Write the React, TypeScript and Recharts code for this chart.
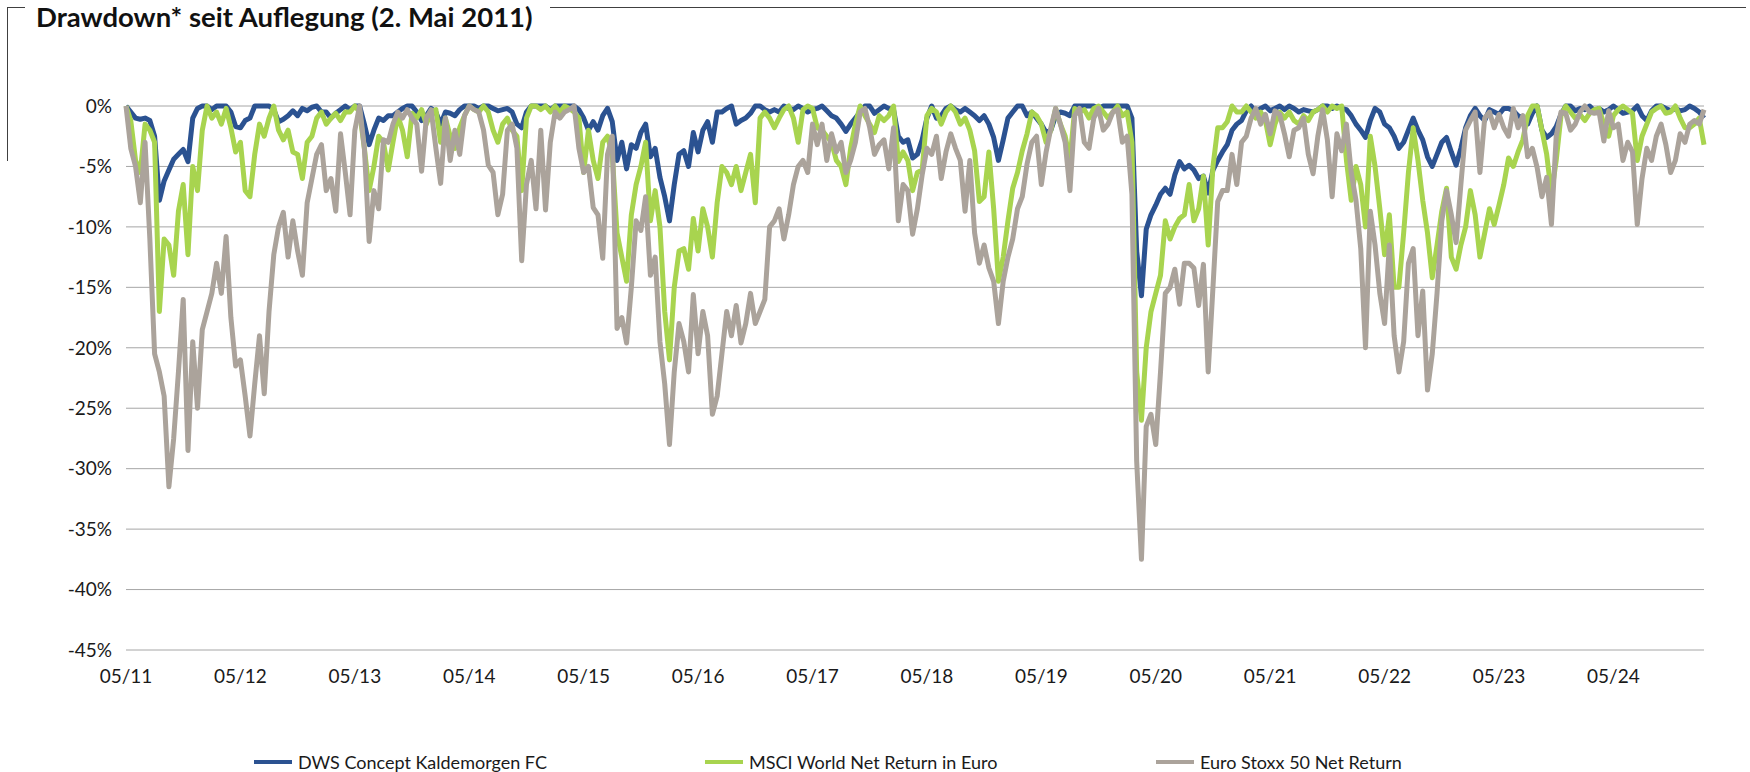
import React from "react";
import { LineChart, Line, XAxis, YAxis, CartesianGrid } from "recharts";

// drawdown in %, one value per half month from 05/2011
const fundValues = [
  // 05/11 - 08/13
  0, -0.5, -1.0, -1.1, -1.0, -1.2, -2.5, -7.8, -6.2, -5.3, -4.4, -4.0,
  -3.6, -4.6, -1.0, -0.2, 0, 0, -0.3, 0, 0, 0, -0.5, -1.7,
  -1.8, -1.2, -1.0, 0, 0, 0, 0, -0.3, -1.3, -1.1, -0.8, -0.4,
  -0.8, -0.2, -0.4, -0.1, 0, -0.5, -0.5, -1.0, -0.6, -0.3, 0, -0.3,
  0, 0, -1.5, -3.2, -2.0, -1.0, -1.2, -0.8,
  // 09/13 - 12/15
  -0.8, -0.5, -0.2, 0, 0, -0.5, -1.2, -0.8, -0.2, -0.5, -1.5, -0.5,
  -0.6, -0.8, -0.3, 0, 0, 0, -0.2, 0, 0, -0.2, -0.4, -0.3,
  -0.2, -0.5, -1.5, -1.8, -0.5, 0, 0, 0, 0, -0.3, 0, 0,
  0, 0, 0, -0.3, -1.0, -2.0, -1.3, -2.0, -0.8, -0.2, -1.3, -4.5,
  -3.0, -5.2, -3.2, -3.5, -2.2, -1.5, -4.2,
  // 12/15 - 06/18
  -3.5, -5.9, -7.5, -9.5, -6.5, -4.0, -3.7, -5.0, -2.2, -3.8, -2.0, -1.3,
  -3.0, -0.5, -0.5, -0.2, 0, -1.5, -1.2, -1.0, -0.6, 0, 0, -0.3,
  -0.5, -0.3, -0.5, 0, -0.2, -0.3, 0, -0.2, -0.5, -0.3, -0.2, 0,
  -0.4, -0.8, -1.0, -1.5, -2.1, -1.5, -1.0, -0.5, 0, 0, -0.6, -0.3,
  0, -0.2, -0.3, -2.5, -3.0, -2.8, -4.3,
  // 07/18 - 01/21
  -4.0, -2.8, -1.0, 0, -1.0, -0.8, -0.2, 0, -0.3, -0.5, -0.2, -0.5,
  -0.8, -1.2, -0.8, -1.5, -2.6, -4.5, -2.8, -1.0, -0.5, 0, 0, -0.8,
  -0.5, -1.0, -1.5, -2.2, -2.0, -0.8, -0.5, -0.6, -0.8, 0, 0, 0,
  0, 0, -0.2, 0, 0, 0, 0, 0, 0, -1.0, -12.0, -15.7,
  -10.2, -9.0, -8.2, -7.3, -6.8, -7.3, -5.7, -4.6, -5.2,
  // 02/21 - 08/23
  -4.9, -5.3, -6.0, -5.8, -7.2, -5.3, -4.5, -3.8, -3.2, -2.0, -1.5, -1.2,
  -0.4, 0, -0.5, -0.2, 0, -0.4, -0.2, 0, -0.3, 0, -0.2, -0.5,
  -0.3, -0.4, -0.5, -0.3, 0, 0, -0.2, 0, -0.2, -0.3, -0.8, -1.5,
  -2.0, -2.6, -1.2, -0.2, -0.5, -1.5, -1.8, -2.5, -3.5, -3.0, -2.0, -1.0,
  -2.0, -2.8, -4.2, -5.0, -4.0, -3.0, -2.6,
  // 09/23 - 02/25
  -3.8, -4.9, -3.5, -1.8, -0.8, -0.2, -0.8, -1.2, -0.3, -0.5, -0.7, -0.2,
  -0.2, -0.4, -0.8, -1.0, -1.5, -0.6, 0, -2.0, -2.6, -2.3, -1.7, -0.7,
  0, 0, -0.4, -0.2, -0.3, 0, -0.4, -0.2, -0.5, -0.3, 0, -0.3,
  -0.6, -0.5, -0.4, 0, -0.8, -1.2, -0.4, 0, 0, -0.2, -0.4, -0.2,
  -0.4, -0.3, 0, -0.2, -0.5, -1.0,
];

const msciValues = [
  0, -1.2, -4.5, -5.5, -1.5, -2.0, -3.0, -17.0, -11.0, -11.5, -14.0, -8.7,
  -6.5, -12.3, -5.0, -7.0, -2.0, 0, -1.0, -0.5, -1.5, -0.2, -1.8, -3.8,
  -3.0, -7.0, -7.5, -4.0, -1.5, -2.5, -1.0, 0, -2.0, -2.8, -2.0, -3.8,
  -4.0, -6.0, -3.0, -2.5, -1.0, -0.5, -1.5, -1.0, -0.6, -1.2, -0.5, -0.5,
  0, -0.5, -3.5, -7.0, -5.0, -2.5, -3.0, -5.3,

  -3.0, -0.8, -2.0, -4.2, -0.6, -1.0, -0.3, -1.5, -0.5, -0.3, -3.0, -1.0,
  -2.5, -3.5, -1.8, -0.8, 0, -0.3, -0.5, 0, -0.5, -2.0, -3.0, -1.5,
  -1.0, -2.0, -2.5, -7.0, -1.0, 0, 0, -0.3, 0, -0.5, 0, -0.5,
  0, -0.2, -0.5, -1.0, -5.5, -2.0, -4.5, -6.0, -3.0, -2.5, -4.0, -10.5,
  -12.5, -14.5, -9.0, -6.5, -5.0, -3.0, -9.5,

  -7.0, -10.0, -17.0, -21.0, -15.0, -12.0, -11.8, -13.5, -9.3, -12.0, -8.5, -10.0,
  -12.5, -8.0, -5.0, -5.5, -6.5, -5.0, -7.0, -5.5, -4.0, -8.0, -1.0, -0.5,
  -1.0, -1.8, -1.0, -0.3, 0, -1.0, -3.0, -0.3, 0, -0.2, -1.8, -2.0,
  -2.5, -3.0, -4.5, -5.0, -6.5, -3.5, -1.5, 0, -0.8, -1.5, -2.2, -0.8,
  -1.2, -0.8, 0, -4.6, -3.8, -4.5, -7.0,

  -5.5, -5.3, -0.8, -0.2, -0.5, -1.5, -0.5, 0, -0.5, -1.5, -1.0, -2.0,
  -3.7, -7.9, -7.5, -3.8, -8.5, -14.5, -12.5, -9.5, -6.8, -5.5, -3.7, -2.3,
  -0.5, -0.8, -1.5, -3.0, -2.0, -0.2, -1.5, -2.5, -4.5, -0.2, -0.5, -0.3,
  -1.0, -0.2, 0, -0.5, -1.0, -0.5, 0, -0.8, -0.5, -3.0, -22.0, -26.0,
  -20.0, -17.0, -15.5, -14.0, -9.5, -11.0, -10.0, -9.3, -9.0,

  -6.5, -9.5, -8.5, -5.8, -11.5, -5.0, -1.8, -1.8, -1.3, 0, -0.5, -0.5,
  0, -0.5, -1.0, -0.5, -1.2, -3.2, -1.5, -0.5, -1.0, -0.5, -1.2, -1.5,
  -0.8, -1.2, -0.5, -0.3, 0, -0.5, 0, -0.2, 0, -4.5, -7.8, -5.0,
  -6.5, -10.0, -2.5, -5.0, -8.5, -12.3, -9.0, -15.0, -15.0, -10.5, -5.5, -1.8,
  -4.5, -7.8, -10.5, -14.2, -11.5, -8.7, -6.8,

  -12.5, -13.5, -11.5, -10.0, -7.0, -9.0, -12.5, -10.5, -8.5, -9.8, -8.2, -6.5,
  -4.3, -5.0, -3.8, -2.8, -0.8, 0, 0, -2.0, -4.0, -7.3, -4.5, -0.8,
  0, -0.5, -1.0, -0.7, -1.2, -0.6, -0.3, -0.2, -1.5, -2.5, -0.8, -0.3,
  0, -0.3, -0.6, -4.5, -2.5, -1.5, -0.5, -0.2, 0, -0.6, -0.5, 0,
  -1.0, -1.8, -1.8, -1.5, -1.0, -3.2,
];

const stoxxValues = [
  0, -3.5, -5.0, -8.0, -3.0, -11.0, -20.5, -22.0, -24.0, -31.5, -27.5, -22.0,
  -16.0, -28.5, -19.5, -25.0, -18.5, -17.0, -15.5, -13.0, -15.5, -10.8, -17.5, -21.5,
  -21.0, -24.0, -27.3, -23.0, -19.0, -23.8, -17.0, -12.3, -10.0, -8.8, -12.5, -9.5,
  -12.0, -14.0, -8.0, -6.0, -4.0, -3.2, -7.0, -6.0, -8.7, -2.3, -5.5, -9.0,
  -2.0, 0, -3.5, -11.2, -7.0, -8.5, -2.8, -3.0,

  -1.5, -0.5, -1.0, -0.3, -1.0, -1.5, -5.4, -1.0, -0.3, -3.5, -6.4, -1.0,
  -4.5, -2.0, -4.0, -0.8, 0, -0.3, -0.5, -2.0, -4.9, -5.5, -9.0, -7.3,
  -2.0, -1.5, -3.5, -12.8, -6.5, -4.5, -8.5, -2.0, -8.6, -3.0, -0.5, -1.0,
  -0.5, -0.3, 0, -3.5, -5.5, -5.0, -8.4, -9.0, -12.6, -4.0, -2.5, -18.4,
  -17.5, -19.6, -15.0, -9.5, -10.3, -7.5, -14.0,

  -12.5, -19.5, -23.0, -28.0, -22.0, -18.0, -19.5, -22.0, -15.6, -20.5, -17.0, -19.0,
  -25.5, -24.0, -20.5, -17.0, -19.0, -16.5, -19.6, -18.0, -15.5, -18.0, -17.0, -16.0,
  -10.0, -9.5, -8.5, -11.0, -9.0, -6.5, -5.0, -4.5, -5.5, -1.5, -3.2, -1.5,
  -4.5, -2.3, -3.8, -3.0, -5.5, -4.5, -3.0, -0.5, -0.2, -1.8, -4.0, -3.2,
  -2.8, -5.2, -1.8, -9.5, -6.5, -7.0, -10.6,

  -8.5, -5.7, -3.5, -4.0, -2.5, -6.0, -3.8, -2.3, -3.5, -4.5, -8.7, -4.5,
  -10.5, -13.0, -11.5, -13.4, -14.5, -18.0, -14.5, -12.5, -11.0, -8.5, -7.5, -4.8,
  -3.0, -2.5, -6.5, -3.8, -1.8, -0.2, -1.5, -3.0, -7.0, -0.8, -0.2, -3.0,
  -3.5, -1.0, -0.2, -2.0, -1.5, -0.5, -0.3, -3.0, -2.5, -7.3, -29.4, -37.5,
  -26.5, -25.5, -28.0, -22.0, -15.5, -15.0, -13.5, -16.4, -13.0,

  -13.0, -13.4, -16.5, -13.1, -22.0, -15.0, -7.9, -7.0, -7.0, -4.0, -6.5, -3.0,
  -2.5, -1.0, -0.2, -1.5, -0.7, -2.3, -0.4, -0.7, -2.3, -4.2, -2.0, -1.8,
  -1.0, -4.0, -5.6, -2.5, -0.3, -2.8, -7.5, -2.3, -3.7, -1.5, -5.5, -7.8,
  -11.8, -20.0, -8.7, -11.5, -15.5, -18.0, -11.5, -19.0, -22.0, -19.5, -13.0, -11.8,
  -19.0, -15.3, -23.5, -20.5, -15.5, -9.5, -7.0,

  -9.0, -11.3, -6.5, -2.0, -1.2, -0.5, -5.5, -1.0, -0.5, -1.8, -0.7, -1.8,
  -2.5, -0.2, -1.8, -0.8, -4.2, -3.5, -5.1, -7.5, -5.9, -9.8, -2.5, -0.5,
  -0.6, -2.0, -1.5, -0.5, 0, -0.5, -0.6, -0.5, -2.9, -0.4, -1.8, -1.5,
  -4.5, -3.0, -3.8, -9.8, -6.0, -3.5, -4.5, -2.5, -1.5, -3.2, -5.5, -4.5,
  -2.3, -3.0, -1.5, -1.2, -1.5, -0.3,
];

const tickLabels = [
  "05/11", "05/12", "05/13", "05/14", "05/15", "05/16", "05/17",
  "05/18", "05/19", "05/20", "05/21", "05/22", "05/23", "05/24",
];
const yTicks = [0, -5, -10, -15, -20, -25, -30, -35, -40, -45];
const pointsPerYear = 24;

const series = [
  { key: "fund", name: "DWS Concept Kaldemorgen FC", color: "#2B5291" },
  { key: "msci", name: "MSCI World Net Return in Euro", color: "#A8D44F" },
  { key: "stoxx", name: "Euro Stoxx 50 Net Return", color: "#ABA39B" },
];

const data = fundValues.map((v, i) => ({
  idx: i,
  fund: v,
  msci: msciValues[i],
  stoxx: stoxxValues[i],
}));

const lastIdx = data.length - 1;
const xTicks = tickLabels.map((_, k) => k * pointsPerYear);

const font = "Lato, 'Open Sans', sans-serif";
const tickStyle = { fontSize: 19, fill: "#1a1a1a", fontFamily: font };

export default function App() {
  return (
    <div
      style={{
        position: "absolute",
        left: 0,
        top: 0,
        width: 1750,
        height: 772,
        overflow: "hidden",
        background: "#fff",
        fontFamily: font,
      }}
    >
      {/* frame round the title */}
      <div
        style={{
          position: "absolute",
          left: 7,
          top: 7,
          width: 1738,
          height: 153,
          borderTop: "1px solid #404040",
          borderLeft: "1px solid #404040",
        }}
      />
      <div
        style={{
          position: "absolute",
          left: 25,
          top: 0,
          padding: "0 17px 0 11px",
          background: "#fff",
          fontSize: 27.5,
          lineHeight: "33px",
          fontWeight: 700,
          color: "#111",
          whiteSpace: "nowrap",
        }}
      >
        Drawdown* seit Auflegung (2. Mai 2011)
      </div>

      <div style={{ position: "absolute", left: 0, top: 0 }}>
        <LineChart
          width={1750}
          height={720}
          data={data}
          margin={{ top: 106, right: 46, bottom: 30, left: 0 }}
        >
          <CartesianGrid vertical={false} stroke="#a6a6a6" />
          <XAxis
            type="number"
            dataKey="idx"
            domain={[0, lastIdx]}
            ticks={xTicks}
            interval={0}
            tickFormatter={(v: number) => tickLabels[Math.round(v / pointsPerYear)]}
            axisLine={false}
            tickLine={false}
            tickMargin={14}
            height={40}
            tick={tickStyle}
          />
          <YAxis
            domain={[-45, 0]}
            ticks={yTicks}
            interval={0}
            tickFormatter={(v: number) => `${v}%`}
            axisLine={false}
            tickLine={false}
            tickMargin={8}
            width={126}
            tick={tickStyle}
          />
          {series.map((s) => (
            <Line
              key={s.key}
              type="linear"
              dataKey={s.key}
              name={s.name}
              stroke={s.color}
              strokeWidth={5}
              strokeLinejoin="round"
              dot={false}
              activeDot={false}
              isAnimationActive={false}
            />
          ))}
        </LineChart>
      </div>

      {/* legend */}
      {series.map((s, k) => (
        <div
          key={s.key}
          style={{
            position: "absolute",
            left: 254 + k * 451,
            top: 750,
            height: 24,
            display: "flex",
            alignItems: "center",
            whiteSpace: "nowrap",
          }}
        >
          <span
            style={{
              display: "inline-block",
              width: 38,
              height: 4,
              background: s.color,
              marginRight: 6,
            }}
          />
          <span style={{ fontSize: 18, color: "#1a1a1a" }}>{s.name}</span>
        </div>
      ))}
    </div>
  );
}
